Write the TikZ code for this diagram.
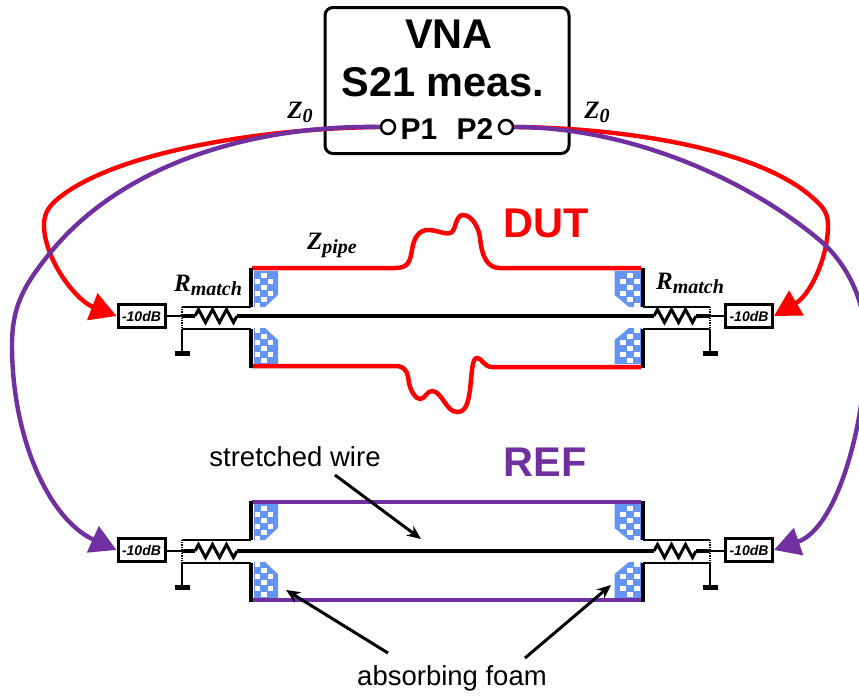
\documentclass[tikz,border=0pt]{standalone}
\usepackage{fontspec}
\setmainfont{Liberation Sans}
\newfontfamily\symfont[BoldItalicFont={Liberation Serif Bold Italic}]{Liberation Serif}
\usepackage{xcolor}
\usetikzlibrary{arrows.meta, decorations.pathmorphing}
\definecolor{dutcolor}{RGB}{255, 0, 0}
\definecolor{refcolor}{RGB}{112, 48, 160}
\definecolor{foamcolor}{RGB}{100, 149, 245}
% one absorber block, drawn for the upper left corner of a pipe
\newcommand{\foamblock}[4]{%
    \begin{scope}[shift={(#1,#2)}, xscale=#3, yscale=#4]
        \fill[foamcolor] (0,0) -- (0,36) -- (11,36) -- (24,24) -- (24,0) -- cycle;
        \begin{scope}
            \clip (0,1) -- (0,36) -- (9,36) -- (20,25) -- (20,1) -- cycle;
            \foreach \col in {0,1,2} {
                \foreach \row in {0,1,2,3,4,5} {
                    \pgfmathtruncatemacro{\odd}{mod(\col+\row,2)}
                    \ifnum\odd=1
                        \fill[white] (\col*6.5+0.5,\row*6+1.5) rectangle +(5.5,5);
                    \fi
                }
            }
        \end{scope}
    \end{scope}
}
\newcommand{\symlabel}[2]{{\symfont\bfseries\itshape\fontsize{25}{25}\selectfont #1\raisebox{-4pt}{\fontsize{20}{20}\selectfont #2}}}
\begin{document}
\begin{tikzpicture}[
    x=1pt, y=-1pt,
    attbox/.style={draw, line width=3pt, minimum width=47pt, minimum height=23pt, inner sep=0pt, font=\fontsize{14}{14}\selectfont\bfseries\itshape},
    thinline/.style={line width=1.4pt},
    wire/.style={line width=3.2pt},
    flange/.style={line width=4.5pt},
    dutpipe/.style={dutcolor, line width=4.5pt},
    refpipe/.style={refcolor, line width=4.2pt},
    cable/.style={line width=4.4pt, -{Triangle[length=26pt, width=28pt]}},
    port/.style={circle, draw, line width=2.5pt, fill=white, minimum size=14pt, inner sep=0pt},
    resistor/.style={decorate, decoration={zigzag, segment length=14pt, amplitude=6.5pt}, line width=3pt},
    callout/.style={line width=3pt, -{Stealth[length=14pt, width=12pt]}},
    lbl/.style={font=\fontsize{27.5}{30}\selectfont},
    title/.style={font=\fontsize{41.5}{44}\selectfont\bfseries}
]
    \useasboundingbox (0,0) rectangle (859,697);

    % VNA
    \node[draw, line width=3pt, rounded corners=8pt, minimum width=244pt, minimum height=146pt] (vna) at (447,80.5) {};
    \node[title] (vnatitle) at (449,34) {VNA};
    \node[title] (vnameas) at (443,82) {S21 meas.};
    \node[font=\fontsize{30}{32}\selectfont\bfseries] (p1label) at (419,129) {P1};
    \node[font=\fontsize{30}{32}\selectfont\bfseries] (p2label) at (475,129) {P2};
    \node[port] (p1) at (388,127) {};
    \node[port] (p2) at (506,127) {};
    \node (zleft) at (300,112) {\symlabel{Z}{0}};
    \node (zright) at (597,112) {\symlabel{Z}{0}};

    % attenuators
    \node[attbox] (attdl) at (141.5,316) {-10dB};
    \node[attbox] (attdr) at (749,316) {-10dB};
    \node[attbox] (attrl) at (141.5,550) {-10dB};
    \node[attbox] (attrr) at (749,550) {-10dB};

    % Foam
    \foamblock{254}{271}{1}{1}
    \foamblock{254}{364}{1}{-1}
    \foamblock{641}{271}{-1.1}{1}
    \foamblock{641}{364}{-1.1}{-1}
    \foamblock{254}{504}{1}{1}
    \foamblock{254}{598}{1}{-1}
    \foamblock{641}{504}{-1.1}{1}
    \foamblock{641}{598}{-1.1}{-1}

    % DUT pipe
    \node[title, text=dutcolor] (dut) at (546,223) {DUT};
    \draw[dutpipe] (252,268) -- (395,268) .. controls (408,268) and (410,262) .. (412,250) .. controls (414,236) and (420,230) .. (428,230) .. controls (438,230) and (447,236) .. (452,232) .. controls (456,228) and (456,215) .. (463,215) .. controls (472,215) and (479,228) .. (480,238) .. controls (482,258) and (488,268) .. (500,268) -- (641,268);
    \draw[dutpipe] (252,366) -- (398,366) .. controls (408,368) and (408,376) .. (409,383) .. controls (411,392) and (416,399) .. (420,399) .. controls (425,399) and (427,391) .. (432,391) .. controls (442,391) and (446,412) .. (457,412) .. controls (466,412) and (468,403) .. (470,390) .. controls (472,372) and (472,358) .. (477,358) .. controls (482,358) and (484,367) .. (492,367) -- (641,367);
    \node (zpipe) at (332,245) {\symlabel{Z}{pipe}};

    % REF pipe
    \node[title, text=refcolor] (ref) at (545,462) {REF};
    \draw[refpipe] (252,502) -- (641,502);
    \draw[refpipe] (252,600) -- (641,600);

    % both sides of each pipe
    \foreach \yc/\yt/\yb/\ya/\yz/\al/\ar in {316/268/368/307/329/attdl/attdr, 551/501/602/540/563/attrl/attrr} {
        \coordinate (wl) at (195,\yc);
        \coordinate (wla) at (237,\yc);
        \coordinate (wr) at (654,\yc);
        \coordinate (wra) at (696,\yc);
        \coordinate (dl) at (182,\yc);
        \coordinate (dr) at (710,\yc);
        \draw[flange] (251,\yt) -- (251,\ya);
        \draw[flange] (251,\yz) -- (251,\yb);
        \draw[flange] (643,\yt) -- (643,\ya);
        \draw[flange] (643,\yz) -- (643,\yb);
        \draw[thinline] (182,\ya) -- (251,\ya);
        \draw[thinline] (182,\yz) -- (251,\yz);
        \draw[thinline] (643,\ya) -- (710,\ya);
        \draw[thinline] (643,\yz) -- (710,\yz);
        \draw[line width=1.2pt, densely dotted] (182,\ya) -- (182,\yz);
        \draw[line width=1.2pt, densely dotted] (710,\ya) -- (710,\yz);
        \draw[thinline] (182,\yz) -- +(0,24);
        \draw[thinline] (710,\yz) -- +(0,24);
        \fill (175,\yz+22) rectangle +(15,5);
        \fill (703,\yz+22) rectangle +(15,5);
        \draw[wire] (dl) -- (wl);
        \draw[resistor] (wl) -- (wla);
        \draw[wire] (wla) -- (wr);
        \draw[resistor] (wr) -- (wra);
        \draw[wire] (wra) -- (dr);
        \draw[thinline] (\al.east |- dl) -- (dl);
        \draw[thinline] (\ar.west |- dr) -- (dr);
    }
    \node (rdl) at (208,285) {\symlabel{R}{match}};
    \node (rdr) at (690,283) {\symlabel{R}{match}};

    % Cables
    \draw[cable, dutcolor] (p1.west) .. controls (270,128) and (120,150) .. (60,197) .. controls (50,205) and (44,212) .. (44,225) .. controls (44,258) and (75,300) .. (attdl.west);
    \draw[cable, dutcolor] (p2.east) .. controls (630,128) and (760,150) .. (813,198) .. controls (822,206) and (828,212) .. (828,225) .. controls (828,258) and (810,295) .. (attdr.east);
    \draw[cable, refcolor] (p1.west) .. controls (270,125) and (130,155) .. (50,253) .. controls (25,284) and (12,305) .. (12,345) .. controls (12,440) and (50,520) .. (attrl.west);
    \draw[cable, refcolor] (p2.east) .. controls (630,127) and (750,180) .. (823,243) .. controls (850,268) and (866,305) .. (866,345) .. controls (866,420) and (838,528) .. (attrr.east);

    % Labels
    \node[lbl] (wirelabel) at (295,457) {stretched wire};
    \node[lbl] (foamlabel) at (452,678) {absorbing foam};
    \coordinate (wirefrom) at (335,475);
    \coordinate (wiretip) at (421,539);
    \coordinate (foamfroml) at (388,653);
    \coordinate (foamtipl) at (286,590);
    \coordinate (foamfromr) at (525,658);
    \coordinate (foamtipr) at (611,585);
    \draw[callout] (wirefrom) -- (wiretip);
    \draw[callout] (foamfroml) -- (foamtipl);
    \draw[callout] (foamfromr) -- (foamtipr);
\end{tikzpicture}
\end{document}
